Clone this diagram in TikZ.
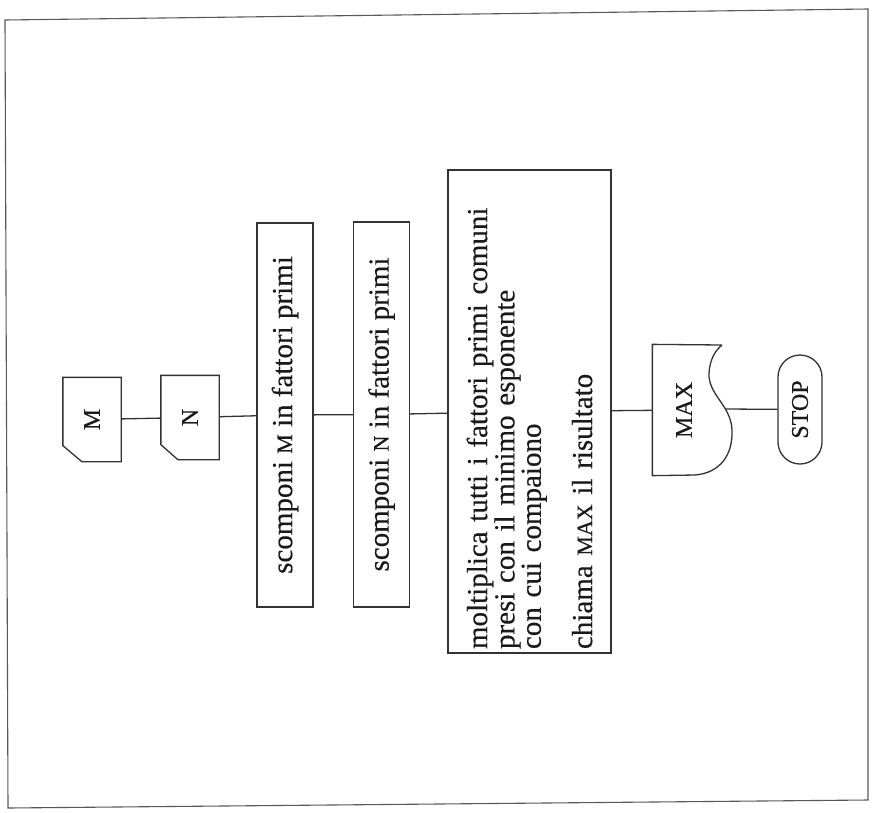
\documentclass[tikz,border=0pt]{standalone}
\usepackage{fontspec}
\setmainfont{Liberation Serif}[FakeBold=0.4]
\usetikzlibrary{shapes.misc,calc}
\newcommand{\capsm}[1]{{\fontsize{22}{22}\selectfont #1}}
\newcommand{\capbig}[1]{{\fontsize{24}{24}\selectfont #1}}
\tikzset{every path/.style={black!80, line width=1.3pt},
  flow/.style={rotate=90, inner sep=4pt, text=black!90, font=\fontsize{29}{20}\selectfont},
  procbox/.style={flow, draw, rectangle, minimum width=#1, minimum height=56},
  cardbox/.style={flow, minimum width=83, minimum height=57},
  stopbox/.style={flow, draw, rounded rectangle, minimum width=117, minimum height=44}}

\begin{document}
\begin{tikzpicture}[x=1pt,y=-1pt]
   \useasboundingbox (0,0) rectangle (873,812);
   % outer frame
   \draw[black!65, line width=1.1pt] (5,20) -- (868,9) -- (868,800) -- (8,808) -- cycle;
   % input cards
   \node[cardbox] (mcard) at (92,419.5) {\capbig{M}};
   \node[cardbox] (ncard) at (190,417.5) {\capbig{N}};
   \draw (mcard.north east) -- (mcard.south east) -- (mcard.south west)
     -- ($(mcard.north west)+(19,0)$) -- ($(mcard.north west)+(0,-16)$) -- cycle;
   \draw (ncard.north east) -- (ncard.south east) -- (ncard.south west)
     -- ($(ncard.north west)+(17,0)$) -- ($(ncard.north west)+(0,-15)$) -- cycle;
   % processing
   \node[procbox=384] (scompm) at (285,415) {scomponi \capsm{M} in fattori primi};
   \node[procbox=385] (scompn) at (381.5,414.5) {scomponi \capsm{N} in fattori primi};
   \node[flow, draw, rectangle, minimum height=163, text width=475, align=left] (molt) at (529.5,411.5)
     {moltiplica tutti i fattori primi comuni\\
      presi con il minimo esponente\\
      con cui compaiono\\[24pt]
      chiama \capsm{MAX} il risultato};
   % output document
   \node[flow, minimum width=130, minimum height=62] (maxdoc) at (684,410) {\capbig{MAX}};
   \draw (722,345) -- (maxdoc.north east) -- (maxdoc.north west) -- (695,475)
     .. controls (720,473) and (733,455) .. (732,430)
     .. controls (731,405) and (708,395) .. (709,373)
     .. controls (710,358) and (716,350) .. (722,345);
   \coordinate (maxwave) at (726,409);
   \node[stopbox] (stop) at (800,409.5) {\capbig{STOP}};
   % connectors
   \draw (mcard) -- (ncard);
   \draw (ncard) -- (scompm);
   \draw (scompm) -- (scompn);
   \draw (scompn) -- (molt);
   \draw (molt) -- (maxdoc);
   \draw (maxwave) -- (stop);
\end{tikzpicture}
\end{document}
